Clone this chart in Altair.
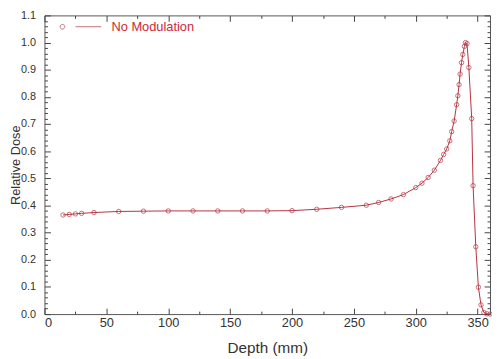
import altair as alt
import pandas as pd

# Depth-dose curve
depth = [15, 20, 25, 30, 40, 60, 80, 100, 120, 140, 160, 180,
         200, 220, 240, 260, 270, 280, 290,
         300, 305, 310, 315, 320, 322.5, 325, 327.5,
         329, 331, 333, 334, 335, 335.8,
         337, 338, 339.3, 340.2, 341.4,
         342.9, 345.2, 346.3, 348.5,
         350.6, 352.7, 355, 357.5, 360]
dose = [0.365, 0.367, 0.369, 0.371, 0.374, 0.378, 0.379, 0.380, 0.380, 0.380, 0.380, 0.380,
        0.381, 0.386, 0.393, 0.401, 0.411, 0.424, 0.440,
        0.466, 0.482, 0.503, 0.530, 0.566, 0.588, 0.608, 0.638,
        0.672, 0.711, 0.771, 0.804, 0.845, 0.884,
        0.926, 0.956, 0.986, 1.000, 0.996,
        0.908, 0.720, 0.473, 0.248,
        0.099, 0.034, 0.006, 0.001, 0.0]
series_name = "No Modulation"

x_major = [0, 50, 100, 150, 200, 250, 300, 350]
x_minor = [25, 75, 125, 175, 225, 275, 325]
y_major = [round(0.1 * i, 1) for i in range(12)]
y_minor = [round(0.02 * i, 2) for i in range(56) if i % 5 != 0]

df = pd.DataFrame({"depth": depth, "dose": dose, "series": [series_name] * len(depth)})

LINE_COLOR = "#b5323f"
TEXT_COLOR = "#cc2936"
AXIS_COLOR = "#444444"
FONT = "Liberation Sans"
W, H = 452, 303

xscale = alt.Scale(domain=[0, 360], nice=False, zero=False)
yscale = alt.Scale(domain=[0, 1.1], nice=False, zero=False)


def xaxis(orient, values, size, labels=False, title=None):
    kw = dict(orient=orient, values=values, domain=False, grid=False,
              labelFont=FONT, labelFontSize=13, labelColor="#333333",
              tickColor=AXIS_COLOR, tickWidth=1)
    if labels:
        kw.update(labels=True, ticks=False, format="d", labelPadding=3,
                  title=title, titleFont=FONT, titleFontSize=15.5,
                  titleFontWeight="normal", titleColor="#333333", titlePadding=11)
    else:
        kw.update(labels=False, tickSize={"expr": str(-size)}, title=None)
    return alt.Axis(**kw)


def yaxis(orient, values, size, labels=False, title=None):
    kw = dict(orient=orient, values=values, domain=False, grid=False,
              labelFont=FONT, labelFontSize=11, labelColor="#333333",
              tickColor=AXIS_COLOR, tickWidth=1)
    if labels:
        kw.update(labels=True, ticks=False, format=".1f", labelPadding=9,
                  title=title, titleFont=FONT, titleFontSize=13,
                  titleFontWeight="normal", titleColor="#333333",
                  titleAngle=270, titleAlign="center", titleBaseline="alphabetic",
                  titleX=-25, titleY=H / 2)
    else:
        kw.update(labels=False, tickSize={"expr": str(-size)}, title=None)
    return alt.Axis(**kw)


legend_path = ("M -0.984,0 A 0.114,0.114 0 1,0 -0.756,0 "
               "A 0.114,0.114 0 1,0 -0.984,0 Z M -0.24,0 L 1,0")

base = alt.Chart(df)

line = base.mark_line(strokeWidth=1, color=LINE_COLOR).encode(
    x=alt.X("depth:Q", scale=xscale, axis=xaxis("bottom", x_major, 0, True, "Depth (mm)")),
    y=alt.Y("dose:Q", scale=yscale, axis=yaxis("left", y_major, 0, True, "Relative Dose")),
)

points = base.mark_point(shape="circle", filled=False, size=20, strokeWidth=1).encode(
    x=alt.X("depth:Q", scale=xscale, axis=xaxis("bottom", x_major, 6)),
    y=alt.Y("dose:Q", scale=yscale, axis=yaxis("left", y_major, 6)),
    color=alt.Color(
        "series:N",
        scale=alt.Scale(domain=[series_name], range=[LINE_COLOR]),
        legend=alt.Legend(
            title=None, orient="none", legendX=15, legendY=-10, padding=0,
            symbolType=legend_path, symbolSize=1764, symbolStrokeWidth=1,
            symbolFillColor="transparent", symbolStrokeColor=LINE_COLOR,
            labelFont=FONT, labelFontSize=13, labelColor=TEXT_COLOR, labelOffset=10,
        ),
    ),
)

inv1 = base.mark_point(opacity=0, size=1).encode(
    x=alt.X("depth:Q", scale=xscale, axis=xaxis("bottom", x_minor, 3)),
    y=alt.Y("dose:Q", scale=yscale, axis=yaxis("left", y_minor, 3)),
)
inv2 = base.mark_point(opacity=0, size=1).encode(
    x=alt.X("depth:Q", scale=xscale, axis=xaxis("top", x_major, 6)),
    y=alt.Y("dose:Q", scale=yscale, axis=yaxis("right", y_major, 6)),
)
inv3 = base.mark_point(opacity=0, size=1).encode(
    x=alt.X("depth:Q", scale=xscale, axis=xaxis("top", x_minor, 3)),
    y=alt.Y("dose:Q", scale=yscale, axis=yaxis("right", y_minor, 3)),
)

chart = (
    alt.layer(line, points, inv1, inv2, inv3)
    .resolve_axis(x="independent", y="independent")
    .properties(
        width=W, height=H,
        autosize=alt.AutoSizeParams(type="none"),
        padding={"left": 37, "top": 5, "right": 2, "bottom": 40},
        background="white",
    )
    .configure_view(stroke="#555555", strokeWidth=1)
)

chart.save("out.html", embed_options={"renderer": "svg", "actions": False})
